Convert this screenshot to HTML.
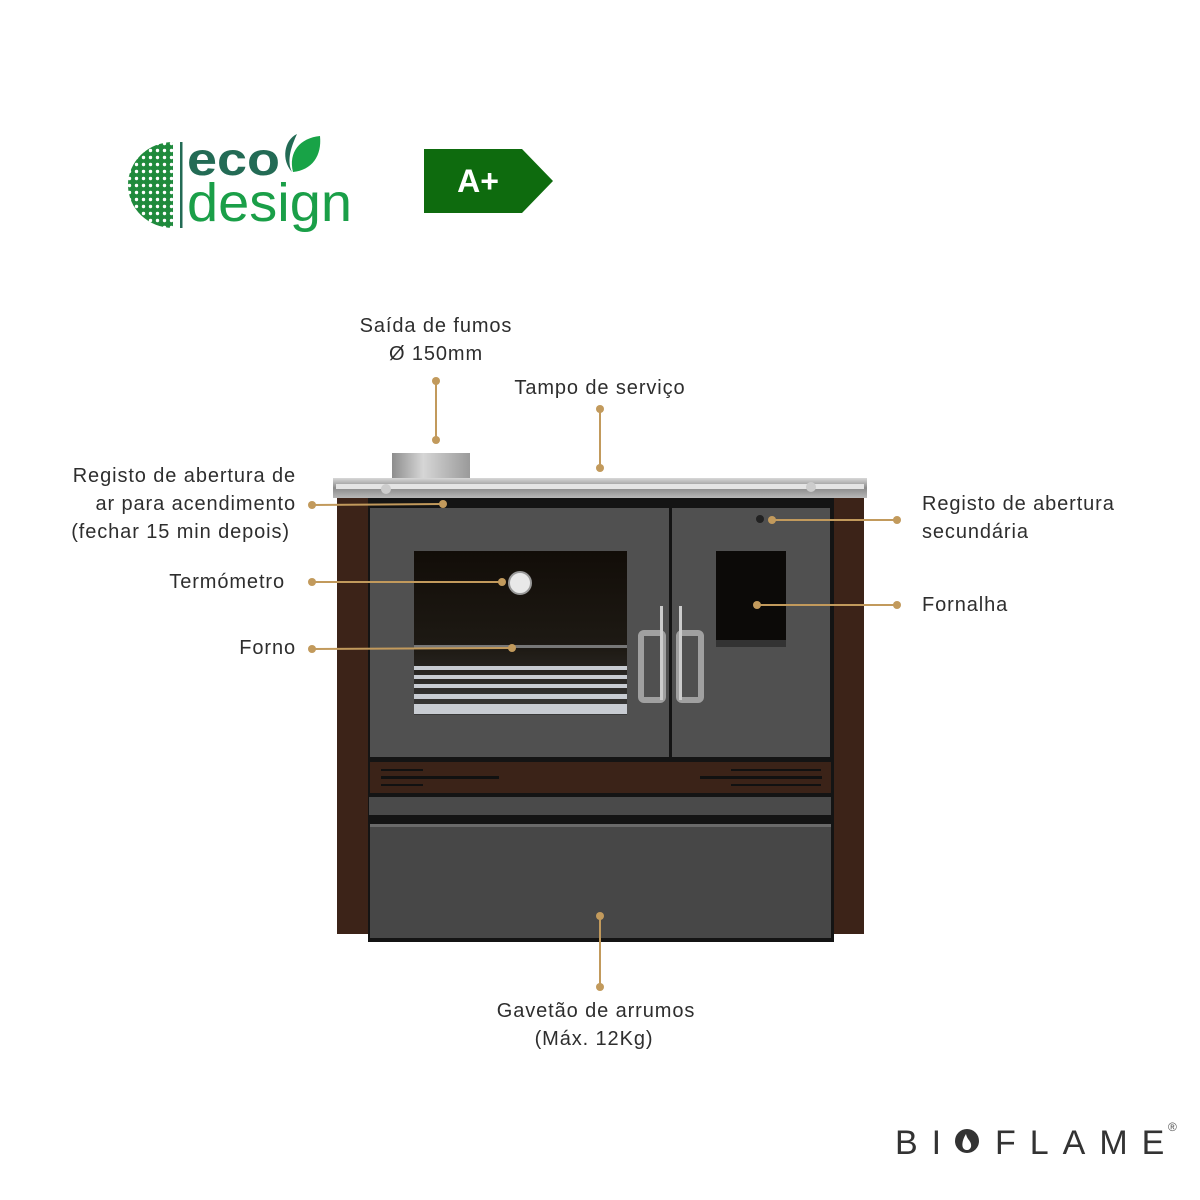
<!DOCTYPE html>
<html><head><meta charset="utf-8"><style>
html,body{margin:0;padding:0;background:#fff;}
svg{display:block;}
.t{font-family:"Liberation Sans",sans-serif;font-size:20px;fill:#2e2e2e;letter-spacing:0.9px;}
.g{stroke:#c29a5c;stroke-width:2;fill:none;}
.d{fill:#c29a5c;}
</style></head><body>
<svg width="1200" height="1200" viewBox="0 0 1200 1200" xmlns="http://www.w3.org/2000/svg">
<defs>
<linearGradient id="pipe" x1="0" x2="1"><stop offset="0" stop-color="#8d8d8d"/><stop offset="0.4" stop-color="#d6d6d6"/><stop offset="1" stop-color="#9a9a9a"/></linearGradient>
<linearGradient id="top" x1="0" y1="0" x2="0" y2="1"><stop offset="0" stop-color="#d8d8d8"/><stop offset="0.5" stop-color="#8a8a8a"/><stop offset="1" stop-color="#b8b8b8"/></linearGradient>
<linearGradient id="glass" x1="0" y1="0" x2="0" y2="1"><stop offset="0" stop-color="#120d08"/><stop offset="0.6" stop-color="#1e1a14"/><stop offset="1" stop-color="#3a3a3a"/></linearGradient>
<pattern id="dots" width="7" height="7" patternUnits="userSpaceOnUse"><rect width="7" height="7" fill="#1f8a3c"/><circle cx="3.5" cy="3.5" r="1.7" fill="#fff"/></pattern>
</defs>

<path d="M173 142 A45 43 0 0 0 173 228 Z" fill="url(#dots)"/>
<rect x="180" y="142" width="2.5" height="86" fill="#236b55"/>
<text x="187" y="175" font-family="Liberation Sans,sans-serif" font-weight="bold" font-size="46" fill="#236b55" textLength="93" lengthAdjust="spacingAndGlyphs">eco</text>
<path d="M297 134 C284 140 281 160 292 172 C286 160 292 145 297 134Z" fill="#236b55"/>
<path d="M320 136 C300 138 288 152 293 172 C312 170 322 156 320 136Z" fill="#18a347"/>
<text x="187" y="221" font-family="Liberation Sans,sans-serif" font-size="54" fill="#1a9f48" textLength="165" lengthAdjust="spacingAndGlyphs">design</text>

<polygon points="424,149 522,149 553,181 522,213 424,213" fill="#0e6b0e"/>
<text x="478" y="192" text-anchor="middle" font-family="Liberation Sans,sans-serif" font-weight="bold" font-size="32" fill="#fff">A+</text>

<rect x="392" y="453" width="78" height="25" fill="url(#pipe)"/>
<rect x="337" y="498" width="33" height="436" fill="#3c2318"/>
<rect x="833" y="498" width="31" height="436" fill="#3c2318"/>
<rect x="368" y="498" width="466" height="444" fill="#141414"/>
<rect x="333" y="478" width="534" height="20" fill="url(#top)"/>
<rect x="336" y="484" width="528" height="5" fill="#e4e4e4"/>
<circle cx="386" cy="489" r="5" fill="#ccc"/><circle cx="811" cy="487" r="5" fill="#ccc"/>
<rect x="370" y="508" width="299" height="249" fill="#505050"/>
<rect x="672" y="508" width="158" height="249" fill="#505050"/>
<rect x="414" y="551" width="213" height="164" fill="url(#glass)"/>
<g fill="#c8ccd2">
<rect x="414" y="666" width="213" height="4"/><rect x="414" y="675" width="213" height="4"/><rect x="414" y="684" width="213" height="4"/><rect x="414" y="694" width="213" height="5"/><rect x="414" y="704" width="213" height="10"/>
<rect x="414" y="645" width="213" height="3" fill="#777"/>
</g>
<circle cx="520" cy="583" r="11" fill="#e8e8e8" stroke="#999" stroke-width="2"/>
<rect x="716" y="551" width="70" height="96" fill="#0c0a08"/>
<rect x="716" y="640" width="70" height="7" fill="#333"/>
<rect x="641" y="633" width="22" height="67" rx="3" fill="none" stroke="#a0a0a0" stroke-width="6"/>
<rect x="679" y="633" width="22" height="67" rx="3" fill="none" stroke="#a0a0a0" stroke-width="6"/>
<rect x="660" y="606" width="3" height="94" fill="#ccc"/><rect x="679" y="606" width="3" height="94" fill="#ccc"/>
<circle cx="760" cy="519" r="4" fill="#222"/>
<rect x="370" y="762" width="461" height="31" fill="#3b2318"/>
<g fill="#111"><rect x="381" y="769" width="42" height="2"/><rect x="381" y="776" width="118" height="3"/><rect x="381" y="784" width="42" height="2"/>
<rect x="731" y="769" width="90" height="2"/><rect x="700" y="776" width="122" height="3"/><rect x="731" y="784" width="90" height="2"/></g>
<rect x="369" y="797" width="462" height="18" fill="#4a4a4a"/>
<rect x="370" y="824" width="461" height="114" fill="#474747"/>
<rect x="370" y="824" width="461" height="3" fill="#6a6a6a"/>

<line class="g" x1="436" y1="381" x2="436" y2="440"/><circle class="d" cx="436" cy="381" r="4"/><circle class="d" cx="436" cy="440" r="4"/>
<line class="g" x1="600" y1="409" x2="600" y2="468"/><circle class="d" cx="600" cy="409" r="4"/><circle class="d" cx="600" cy="468" r="4"/>
<line class="g" x1="312" y1="505" x2="443" y2="504"/><circle class="d" cx="312" cy="505" r="4"/><circle class="d" cx="443" cy="504" r="4"/>
<line class="g" x1="312" y1="582" x2="502" y2="582"/><circle class="d" cx="312" cy="582" r="4"/><circle class="d" cx="502" cy="582" r="4"/>
<line class="g" x1="312" y1="649" x2="512" y2="648"/><circle class="d" cx="312" cy="649" r="4"/><circle class="d" cx="512" cy="648" r="4"/>
<line class="g" x1="772" y1="520" x2="897" y2="520"/><circle class="d" cx="772" cy="520" r="4"/><circle class="d" cx="897" cy="520" r="4"/>
<line class="g" x1="757" y1="605" x2="897" y2="605"/><circle class="d" cx="757" cy="605" r="4"/><circle class="d" cx="897" cy="605" r="4"/>
<line class="g" x1="600" y1="916" x2="600" y2="987"/><circle class="d" cx="600" cy="916" r="4"/><circle class="d" cx="600" cy="987" r="4"/>

<text class="t" x="436" y="332" text-anchor="middle">Saída de fumos</text>
<text class="t" x="436" y="360" text-anchor="middle">Ø 150mm</text>
<text class="t" x="600" y="394" text-anchor="middle">Tampo de serviço</text>
<text class="t" x="296" y="482" text-anchor="end">Registo de abertura de</text>
<text class="t" x="296" y="510" text-anchor="end">ar para acendimento</text>
<text class="t" x="290" y="538" text-anchor="end">(fechar 15 min depois)</text>
<text class="t" x="285" y="588" text-anchor="end">Termómetro</text>
<text class="t" x="296" y="654" text-anchor="end">Forno</text>
<text class="t" x="922" y="510">Registo de abertura</text>
<text class="t" x="922" y="538">secundária</text>
<text class="t" x="922" y="611">Fornalha</text>
<text class="t" x="596" y="1017" text-anchor="middle">Gavetão de arrumos</text>
<text class="t" x="594" y="1045" text-anchor="middle">(Máx. 12Kg)</text>

<text x="895" y="1154" font-family="Liberation Sans,sans-serif" font-size="34" fill="#333" letter-spacing="14">BI</text>
<circle cx="967" cy="1141" r="12" fill="#333"/>
<path d="M967 1150 C961 1150 961 1142 966 1134 C967 1140 972 1141 971 1147 C970 1149 969 1150 967 1150Z" fill="#fff"/>
<text x="995" y="1154" font-family="Liberation Sans,sans-serif" font-size="34" fill="#333" letter-spacing="14">FLAME</text>
<text x="1168" y="1131" font-family="Liberation Sans,sans-serif" font-size="12" fill="#555">®</text>
</svg>
</body></html>
